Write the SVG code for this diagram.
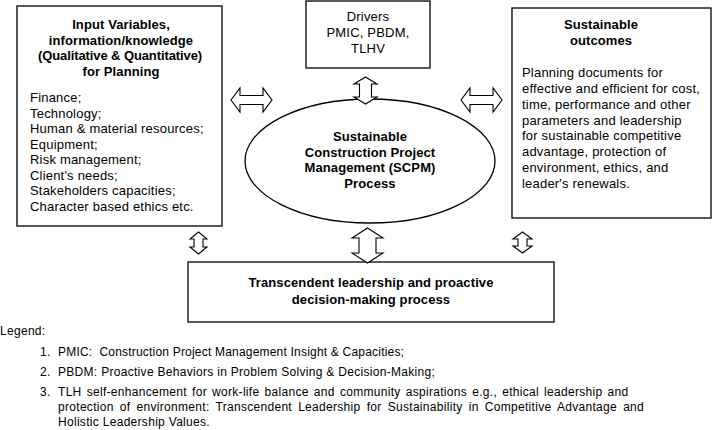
<svg xmlns="http://www.w3.org/2000/svg" width="714" height="430" viewBox="0 0 714 430">
<style>
.box{fill:#fff;stroke:#000;stroke-width:1.3}
.arr{fill:#fff;stroke:#000;stroke-width:1.1;stroke-linejoin:miter}
text{font-family:"Liberation Sans",Arial,sans-serif;font-size:13px;letter-spacing:0.2px;fill:#000}
.b{font-weight:bold;letter-spacing:0.1px}
.c{text-anchor:middle}
.lg{font-size:12px;letter-spacing:0.3px}
</style>
<rect width="714" height="430" fill="#fff"/>
<g id="input-box">
<rect class="box" x="17" y="6" width="205" height="220"/>
<text class="b c" x="121" y="29">Input Variables,</text>
<text class="b c" x="121" y="45">information/knowledge</text>
<text class="b c" x="120" y="60" style="letter-spacing:-0.1px">(Qualitative &amp; Quantitative)</text>
<text class="b c" x="121" y="76">for Planning</text>
<text x="30" y="102">Finance;</text>
<text x="30" y="117.5">Technology;</text>
<text x="30" y="133">Human &amp; material resources;</text>
<text x="30" y="148.5">Equipment;</text>
<text x="30" y="164">Risk management;</text>
<text x="30" y="179.5">Client's needs;</text>
<text x="30" y="195">Stakeholders capacities;</text>
<text x="30" y="210.5">Character based ethics etc.</text>
</g>
<g id="drivers-box">
<rect class="box" x="306" y="1" width="124" height="67"/>
<text class="c" x="368" y="21">Drivers</text>
<text class="c" x="368" y="37">PMIC, PBDM,</text>
<text class="c" x="368" y="53">TLHV</text>
</g>
<g id="outcomes-box">
<rect class="box" x="512" y="8" width="199" height="210"/>
<text class="b c" x="601" y="29">Sustainable</text>
<text class="b c" x="601" y="45">outcomes</text>
<text x="522" y="77">Planning documents for</text>
<text x="522" y="93">effective and efficient for cost,</text>
<text x="522" y="108.5">time, performance and other</text>
<text x="522" y="124.5">parameters and leadership</text>
<text x="522" y="140">for sustainable competitive</text>
<text x="522" y="156">advantage, protection of</text>
<text x="522" y="172">environment, ethics, and</text>
<text x="522" y="188">leader's renewals.</text>
</g>
<g id="scpm-process">
<ellipse class="box" cx="370" cy="161" rx="125" ry="62"/>
<text class="b c" x="370" y="141">Sustainable</text>
<text class="b c" x="370" y="156.5">Construction Project</text>
<text class="b c" x="370" y="172">Management (SCPM)</text>
<text class="b c" x="370" y="187.5">Process</text>
</g>
<g id="leadership-box">
<rect class="box" x="188" y="262" width="366" height="60"/>
<text class="b c" x="371" y="287">Transcendent leadership and proactive</text>
<text class="b c" x="371" y="304">decision-making process</text>
</g>
<g id="connectors">
<path class="arr" d="M231,100 L240,88 L240,95.5 L263,95.5 L263,88 L272,100 L263,112 L263,104.5 L240,104.5 L240,112 Z"/>
<path class="arr" d="M461,100 L470,88 L470,95.5 L493,95.5 L493,88 L502,100 L493,112 L493,104.5 L470,104.5 L470,112 Z"/>
<path class="arr" d="M365.5,77 L377,84 L371.5,84 L371.5,97 L377,97 L365.5,104 L354,97 L359.5,97 L359.5,84 L354,84 Z"/>
<path class="arr" d="M198.5,232 L207,239 L203,239 L203,247 L207,247 L198.5,254 L190,247 L194,247 L194,239 L190,239 Z"/>
<path class="arr" d="M367.5,228 L383,238 L376,238 L376,253 L383,253 L367.5,263 L352,253 L359,253 L359,238 L352,238 Z"/>
<path class="arr" d="M522.5,232 L532,239 L527,239 L527,246 L532,246 L522.5,253 L513,246 L518,246 L518,239 L513,239 Z"/>
</g>
<g id="legend">
<text class="lg" x="0" y="335">Legend:</text>
<text class="lg" x="40" y="356">1.</text>
<text class="lg" x="58" y="356" xml:space="preserve" style="letter-spacing:0.2px">PMIC:  Construction Project Management Insight &amp; Capacities;</text>
<text class="lg" x="40" y="376">2.</text>
<text class="lg" x="58" y="376">PBDM: Proactive Behaviors in Problem Solving &amp; Decision-Making;</text>
<text class="lg" x="40" y="396">3.</text>
<text class="lg" x="58" y="396" style="word-spacing:1.5px">TLH self-enhancement for work-life balance and community aspirations e.g., ethical leadership and</text>
<text class="lg" x="58" y="411" style="word-spacing:2.5px">protection of environment: Transcendent Leadership for Sustainability in Competitive Advantage and</text>
<text class="lg" x="58" y="426">Holistic Leadership Values.</text>
</g>
</svg>
